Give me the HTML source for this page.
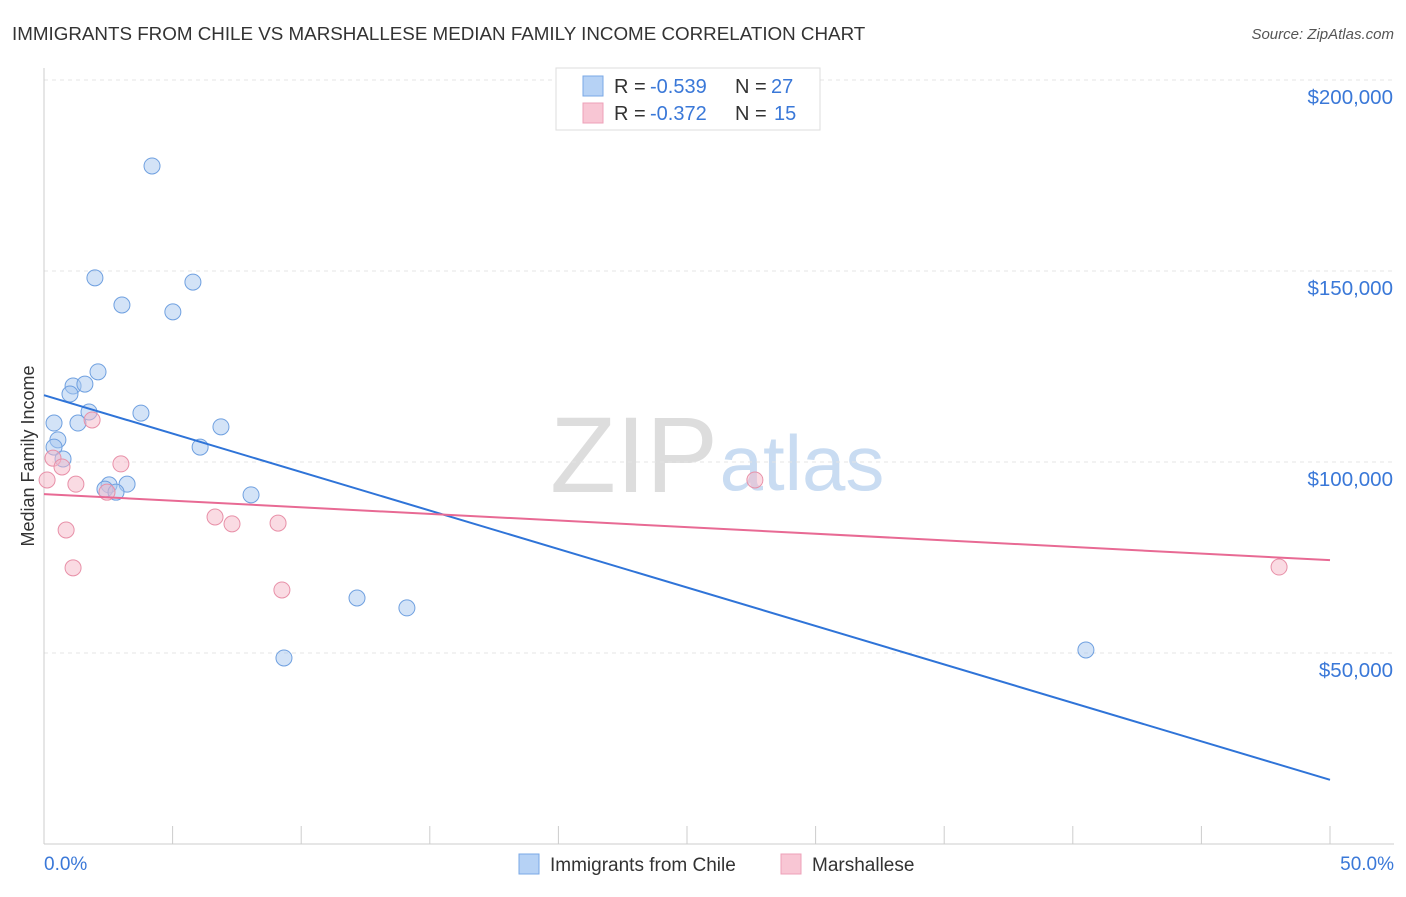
<!DOCTYPE html>
<html><head><meta charset="utf-8"><style>
body{margin:0;background:#fff;font-family:"Liberation Sans",sans-serif;}
svg text{font-family:"Liberation Sans",sans-serif;}
</style></head><body>
<svg width="1406" height="892" viewBox="0 0 1406 892">
<text x="12" y="40" font-size="18.8" fill="#333">IMMIGRANTS FROM CHILE VS MARSHALLESE MEDIAN FAMILY INCOME CORRELATION CHART</text>
<text x="1394" y="39" font-size="15" fill="#555" text-anchor="end" font-style="italic">Source: ZipAtlas.com</text>
<text x="634" y="492" font-size="108" fill="#ddd" font-family="Liberation Serif" text-anchor="middle">ZIP</text>
<text x="802" y="490" font-size="78" fill="#c9dcf2" text-anchor="middle">atlas</text>
<g id="grid"></g>
<line x1="44" y1="68" x2="44" y2="844" stroke="#ccc"/>
<line x1="44" y1="844" x2="1394" y2="844" stroke="#ccc"/>
<g id="xticks"></g>
<text transform="translate(34,456) rotate(-90)" font-size="18" fill="#333" text-anchor="middle">Median Family Income</text>
<text x="44" y="870" font-size="19" fill="#3a78d8">0.0%</text>
<text x="1394" y="870" font-size="19" fill="#3a78d8" text-anchor="end">50.0%</text>
<g id="marks"></g>
<g>
<rect x="556" y="68" width="264" height="62" fill="#fff" stroke="#ddd"/>
<rect x="583" y="76" width="20" height="20" fill="#b6d2f5" stroke="#7aa8e6"/>
<rect x="583" y="103" width="20" height="20" fill="#f8c6d4" stroke="#eea0b8"/>
<text x="614" y="93" font-size="20" fill="#333">R =</text>
<text x="650" y="93" font-size="20" fill="#3a78d8">-0.539</text>
<text x="735" y="93" font-size="20" fill="#333">N =</text>
<text x="771" y="93" font-size="20" fill="#3a78d8">27</text>
<text x="614" y="120" font-size="20" fill="#333">R =</text>
<text x="650" y="120" font-size="20" fill="#3a78d8">-0.372</text>
<text x="735" y="120" font-size="20" fill="#333">N =</text>
<text x="774" y="120" font-size="20" fill="#3a78d8">15</text>
</g>
<g>
<rect x="519" y="854" width="20" height="20" fill="#b6d2f5" stroke="#7aa8e6"/>
<text x="550" y="871" font-size="19" fill="#333">Immigrants from Chile</text>
<rect x="781" y="854" width="20" height="20" fill="#f8c6d4" stroke="#eea0b8"/>
<text x="812" y="871" font-size="19" fill="#333">Marshallese</text>
</g>
</svg>
<script>
const yTicks=[50000,100000,150000,200000];
const yTickLabels=["$50,000","$100,000","$150,000","$200,000"];
const xTicks=[0,5,10,15,20,25,30,35,40,45,50];
const chileX=[4.2,1.98,5.79,3.03,5.01,2.1,1.13,1.59,1.01,1.75,3.77,0.39,1.32,6.88,0.54,0.39,6.07,0.74,2.53,3.23,2.37,2.8,8.05,12.17,14.11,9.33,40.51];
const chileY=[177500,148200,147100,141100,139300,123600,119900,120400,117800,113100,112800,110200,110200,109200,105800,103900,103900,100800,94000,94200,92900,92100,91400,64400,61800,48700,50800];
const marX=[0.35,0.7,0.12,1.24,1.87,2.99,2.45,0.86,1.13,6.65,7.31,9.1,9.25,27.64,48.02];
const marY=[101000,98700,95300,94200,111000,99500,92100,82200,72300,85600,83800,84000,66500,95300,72500];
const chileTrend=[117500,16800];
const marTrend=[91600,74300];
const NS="http://www.w3.org/2000/svg";
const X=p=>44+p*1286/50;
const Y=v=>653-(v-50000)*191/50000;
function mk(t,a,parent){const e=document.createElementNS(NS,t);for(const k in a)e.setAttribute(k,a[k]);document.getElementById(parent).appendChild(e);return e;}
yTicks.forEach((v,i)=>{
 const l=mk('line',{x1:44,x2:1394,y1:Y(v),y2:Y(v),stroke:'#e4e4e4','stroke-dasharray':'4,4'},'grid');
 
 
 const t=mk('text',{x:1393,y:Y(v)+24,'font-size':20.5,fill:'#3a78d8','text-anchor':'end'},'grid');
 t.textContent=yTickLabels[i];
 
 
});
xTicks.forEach(p=>{
 const l=mk('line',{x1:X(p),x2:X(p),y1:826,y2:844,stroke:'#ccc'},'xticks');
 
 
});
function pts(xs,ys,fill,stroke,name){
 xs.forEach((x,i)=>{
  const c=mk('circle',{cx:X(x),cy:Y(ys[i]),r:8,fill:fill,'fill-opacity':0.5,stroke:stroke,'stroke-width':1},'marks');
  
  
 });
}
pts(chileX,chileY,'#a8c8f0','#6fa0e0','chile-point');
pts(marX,marY,'#f5b8c8','#e890a8','marshallese-point');
const l1=mk('line',{x1:X(0),y1:Y(chileTrend[0]),x2:X(50),y2:Y(chileTrend[1]),stroke:'#2f74d8','stroke-width':2},'marks');


const l2=mk('line',{x1:X(0),y1:Y(marTrend[0]),x2:X(50),y2:Y(marTrend[1]),stroke:'#e86a94','stroke-width':2},'marks');


</script>
</body></html>
